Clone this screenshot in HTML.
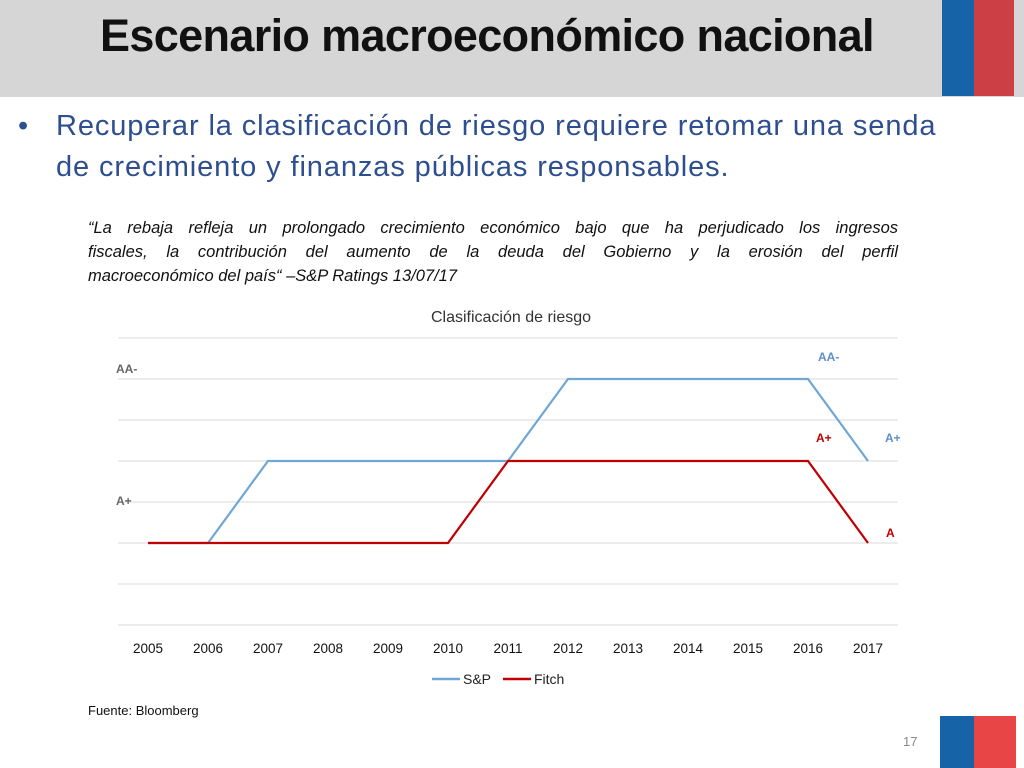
<!DOCTYPE html>
<html><head><meta charset="utf-8"><style>
body{margin:0;width:1024px;height:768px;background:#fff;position:relative;overflow:hidden;font-family:"Liberation Sans",sans-serif}
.abs{position:absolute}
.q{text-align:justify;text-align-last:justify}
</style></head><body>
<div class="abs" style="left:0;top:0;width:1024px;height:97px;background:#d6d6d6"></div>
<div class="abs" style="left:100px;top:10px;font-size:45px;font-weight:bold;color:#111;letter-spacing:-0.65px">Escenario macroeconómico nacional</div>
<div class="abs" style="left:942px;top:0;width:32px;height:96px;background:#1763a8"></div>
<div class="abs" style="left:974px;top:0;width:40px;height:96px;background:#cc3f45"></div>
<div class="abs" style="left:18px;top:106px;font-size:29px;color:#2e4f8f;line-height:41px;width:1000px;letter-spacing:0.9px">
<span style="display:inline-block;width:38px;color:#2e4f8f">•</span>Recuperar la clasificación de riesgo requiere retomar una senda<br><span style="display:inline-block;width:38px"></span>de crecimiento y finanzas públicas responsables.</div>
<div class="abs" style="left:88px;top:216px;width:810px;font-size:16.5px;font-style:italic;color:#111;line-height:24px">
<div class="q">“La rebaja refleja un prolongado crecimiento económico bajo que ha perjudicado los ingresos</div>
<div class="q">fiscales, la contribución del aumento de la deuda del Gobierno y la erosión del perfil</div>
<div>macroeconómico del país“ –S&amp;P Ratings 13/07/17</div></div>
<svg class="abs" style="left:0;top:0" width="1024" height="768">
<text x="511" y="322" text-anchor="middle" font-size="16" fill="#333">Clasificación de riesgo</text>
<g id="grid"></g><g id="xt"></g><g id="lines"></g>
<text x="116" y="373" font-size="12" font-weight="bold" fill="#666">AA-</text>
<text x="116" y="505" font-size="12" font-weight="bold" fill="#666">A+</text>
<text x="818" y="361" font-size="12" font-weight="bold" fill="#5b8fc7">AA-</text>
<text x="885" y="442" font-size="12" font-weight="bold" fill="#5b8fc7">A+</text>
<text x="816" y="442" font-size="12" font-weight="bold" fill="#c00000">A+</text>
<text x="886" y="537" font-size="12" font-weight="bold" fill="#c00000">A</text>
<line x1="432" y1="679" x2="460" y2="679" stroke="#6fa8d6" stroke-width="2.5"/>
<text x="463" y="684" font-size="14" fill="#222">S&amp;P</text>
<line x1="503" y1="679" x2="531" y2="679" stroke="#c00000" stroke-width="2.5"/>
<text x="534" y="684" font-size="14" fill="#222">Fitch</text>
</svg>
<div class="abs" style="left:88px;top:703px;font-size:13px;color:#111">Fuente: Bloomberg</div>
<div class="abs" style="left:903px;top:734px;font-size:13px;color:#888">17</div>
<div class="abs" style="left:940px;top:716px;width:34px;height:52px;background:#1763a8"></div>
<div class="abs" style="left:974px;top:716px;width:42px;height:52px;background:#e84646"></div>
<script>
const years=[2005,2006,2007,2008,2009,2010,2011,2012,2013,2014,2015,2016,2017];
const sp=[2,2,4,4,4,4,4,6,6,6,6,6,4];
const fitch=[2,2,2,2,2,2,4,4,4,4,4,4,2];
const gridLevels=[0,1,2,3,4,5,6,7];
const NS='http://www.w3.org/2000/svg';
const x=i=>148+i*60, y=v=>625-v*41;
const g=document.getElementById('grid'),xt=document.getElementById('xt'),L=document.getElementById('lines');
gridLevels.forEach(v=>{const l=document.createElementNS(NS,'line');
l.setAttribute('x1',118);l.setAttribute('x2',898);l.setAttribute('y1',y(v));l.setAttribute('y2',y(v));
l.setAttribute('stroke','#d9d9d9');l.setAttribute('stroke-width','1');

g.appendChild(l);});
years.forEach((yr,i)=>{const t=document.createElementNS(NS,'text');
t.setAttribute('x',x(i));t.setAttribute('y',653);t.setAttribute('text-anchor','middle');t.setAttribute('font-size','13.5');t.setAttribute('fill','#111');t.textContent=yr;

xt.appendChild(t);});
function line(arr,c,name){const p=document.createElementNS(NS,'polyline');
p.setAttribute('points',arr.map((v,i)=>x(i)+','+y(v)).join(' '));
p.setAttribute('fill','none');p.setAttribute('stroke',c);p.setAttribute('stroke-width','2.2');

L.appendChild(p);}
line(sp,'#6fa8d6','sp-line');line(fitch,'#c00000','fitch-line');
</script>
</body></html>
